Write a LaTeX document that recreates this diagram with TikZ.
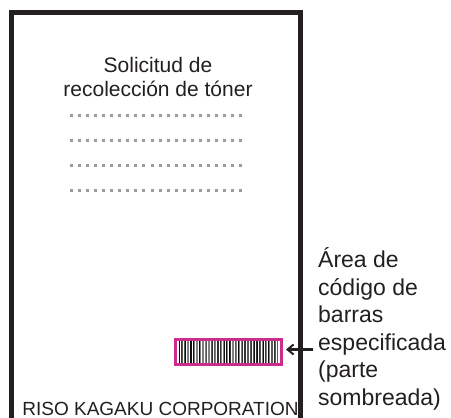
\documentclass[tikz,border=0pt]{standalone}
\usepackage{fontspec}
\setmainfont{Liberation Sans}
\usetikzlibrary{arrows.meta}
\definecolor{ink}{HTML}{231F20}
\definecolor{dotgray}{HTML}{9D9D9D}
\definecolor{barpink}{HTML}{CC2C8C}

\begin{document}
\begin{tikzpicture}[x=1pt, y=-1pt,
  sheet/.style={ink, line width=4.2pt},
  filler/.style={fill=dotgray},
  barbox/.style={draw=barpink, line width=3pt, minimum width=106pt, minimum height=25pt, inner sep=0pt},
  pointer/.style={ink, line width=2.4pt, -{Straight Barb[length=6pt, width=10pt, line width=2pt]}, shorten >=3pt},
  label/.style={text=ink, inner sep=0pt}]
\useasboundingbox (0,0) rectangle (451,418);
% sheet outline (open at the bottom)
\draw[sheet] (11.5,418) -- (11.5,12.5) -- (300.5,12.5) -- (300.5,418);
% title
\node[label, anchor=base, align=center, font=\fontsize{21}{24}\selectfont] (title) at (158,96)
 {Solicitud de\\recolección de tóner};
% placeholder lines (gray dots)
\foreach \r in {115,140,165,190}{
  \foreach \c in {0,...,21}{
    \fill[filler] (70+8.05*\c,\r-1.5) rectangle ++(3,3);
  }
}
% barcode area
\node[barbox] (bar) at (228.5,352) {};
\pgfmathsetseed{17}
\foreach \i in {0,...,65}{
  \pgfmathsetmacro{\bw}{0.6+random(0,2)*0.4}
  \pgfmathtruncatemacro{\bg}{50+random(0,3)*15}
  \fill[black!\bg] (179+1.5*\i,341) rectangle ++(\bw,22);
}
% pointer to the barcode
\coordinate (tail) at (313,349.5);
\draw[pointer] (tail) -- (bar.east |- tail);
\node[label, anchor=base west, align=left, font=\fontsize{23}{27.5}\selectfont] (note) at (318,405)
 {Área de\\código de\\barras\\especificada\\(parte\\sombreada)};
% company name
\node[label, anchor=base, font=\fontsize{19}{22}\selectfont] (maker) at (160.5,415)
 {RISO KAGAKU CORPORATION};
\end{tikzpicture}
\end{document}
